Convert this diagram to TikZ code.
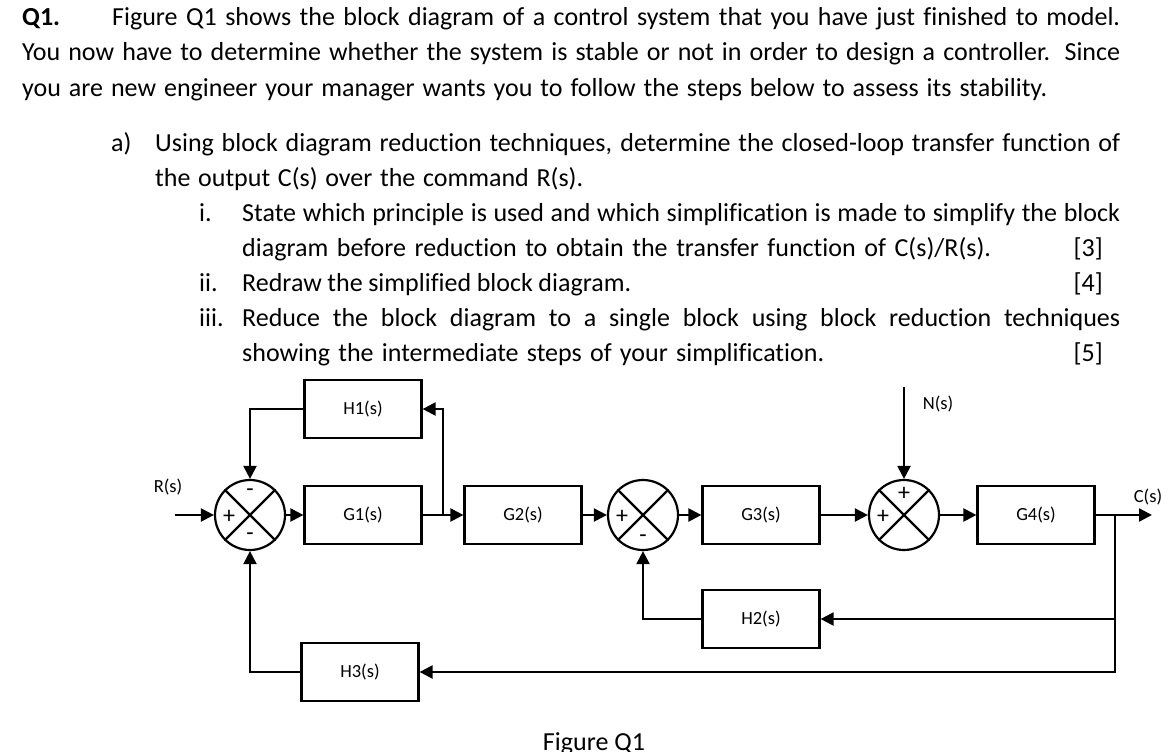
\documentclass[tikz,border=0pt]{standalone}
\usepackage{fontspec}
\setmainfont{Carlito}[Ligatures=CommonOff]
\usetikzlibrary{arrows.meta}
\tikzset{
  txt/.style = {anchor=base west, inner sep=0pt, font=\fontsize{26}{35}\selectfont},
  score/.style = {anchor=base east, inner sep=0pt, font=\fontsize{26}{35}\selectfont},
  block/.style = {draw, line width=2.2pt, minimum width=117pt, minimum height=58pt, font=\fontsize{18.5}{20}\selectfont},
  sumnode/.style = {draw, circle, line width=2.2pt, minimum size=70pt, inner sep=0pt},
  sgn/.style = {inner sep=0pt, font=\fontsize{24}{24}\selectfont},
  lbl/.style = {inner sep=0pt, font=\fontsize{18.5}{20}\selectfont},
  sig/.style = {line width=2.2pt, -{Triangle[length=13pt,width=13pt]}},
  wire/.style = {line width=2.2pt}
}
\newcommand{\spread}[2]{\makebox[#1pt][s]{#2}}
\begin{document}
\begin{tikzpicture}[x=1pt, y=-1pt]
\useasboundingbox (0,0) rectangle (1170,752);

\node (q) at (22,26) [txt] {\textbf{Q1.}};
\node (t1) at (112,26) [txt] {\spread{1008}{Figure Q1 shows the block diagram of a control system that you have just finished to model.}};
\node (t2) at (22,61) [txt] {\spread{1098}{You now have to determine whether the system is stable or not in order to design a controller. Since}};
\node (t3) at (22,96) [txt] {\spread{1025}{you are new engineer your manager wants you to follow the steps below to assess its stability.}};
\node (pa) at (111,151) [txt] {a)};
\node (t4) at (155,151) [txt] {\spread{965}{Using block diagram reduction techniques, determine the closed-loop transfer function of}};
\node (t5) at (155,186) [txt] {\spread{428}{the output C(s) over the command R(s).}};
\node (pi) at (199,221) [txt] {i.};
\node (t6) at (242,221) [txt] {\spread{878}{State which principle is used and which simplification is made to simplify the block}};
\node (t7) at (242,256) [txt] {\spread{749}{diagram before reduction to obtain the transfer function of C(s)/R(s).}};
\node (m3) at (1103,256) [score] {[3]};
\node (pii) at (199,291) [txt] {ii.};
\node (t8) at (242,291) [txt] {\spread{389}{Redraw the simplified block diagram.}};
\node (m4) at (1103,291) [score] {[4]};
\node (piii) at (199,326) [txt] {iii.};
\node (t9) at (242,326) [txt] {\spread{878}{Reduce the block diagram to a single block using block reduction techniques}};
\node (t10) at (242,361) [txt] {\spread{582}{showing the intermediate steps of your simplification.}};
\node (m5) at (1103,361) [score] {[5]};

\node (h1) at (363,409) [block] {H1(s)};
\node (g1) at (363,515) [block] {G1(s)};
\node (g2) at (523,515) [block] {G2(s)};
\node (g3) at (761,515) [block] {G3(s)};
\node (g4) at (1036,515) [block] {G4(s)};
\node (h2) at (761,619) [block] {H2(s)};
\node (h3) at (360,672) [block] {H3(s)};

\node (s1) at (250,515) [sumnode] {};
\node (s2) at (643,515) [sumnode] {};
\node (s3) at (904,515) [sumnode] {};
\foreach \s in {s1,s2,s3} {
  \draw[wire] (\s.north west) -- (\s.south east);
  \draw[wire] (\s.south west) -- (\s.north east);
}
\node (s1p) at (229,517) [sgn] {+};
\node (s1m) at (250,493) [sgn] {-};
\node (s1n) at (250,537) [sgn] {-};
\node (s2p) at (622,517) [sgn] {+};
\node (s2m) at (643,539) [sgn] {-};
\node (s3p) at (883,517) [sgn] {+};
\node (s3q) at (904,494) [sgn] {+};

\node (rs) at (168,487) [lbl] {R(s)};
\node (ns) at (938,404) [lbl] {N(s)};
\node (cs) at (1148,497) [lbl] {C(s)};
\node (fig) at (594,750) [anchor=base, inner sep=0pt, font=\fontsize{26}{30}\selectfont] {Figure Q1};

\coordinate (in) at (175,515);
\coordinate (nin) at (904,387);
\coordinate (out) at (1152,515);
\coordinate (b1) at (443,515);
\coordinate (b2) at (1115,515);

\draw[sig] (in) -- (s1);
\draw[sig] (s1) -- (g1);
\draw[sig] (g1) -- (g2);
\draw[sig] (g2) -- (s2);
\draw[sig] (s2) -- (g3);
\draw[sig] (g3) -- (s3);
\draw[sig] (nin) -- (s3);
\draw[sig] (s3) -- (g4);
\draw[sig] (g4) -- (out);
\draw[sig] (b1) |- (h1);
\draw[sig] (h1.west) -| (s1.north);
\draw[sig] (b2) |- (h2);
\draw[sig] (b2) |- (h3);
\draw[sig] (h2.west) -| (s2.south);
\draw[sig] (h3.west) -| (s1.south);
\end{tikzpicture}
\end{document}
